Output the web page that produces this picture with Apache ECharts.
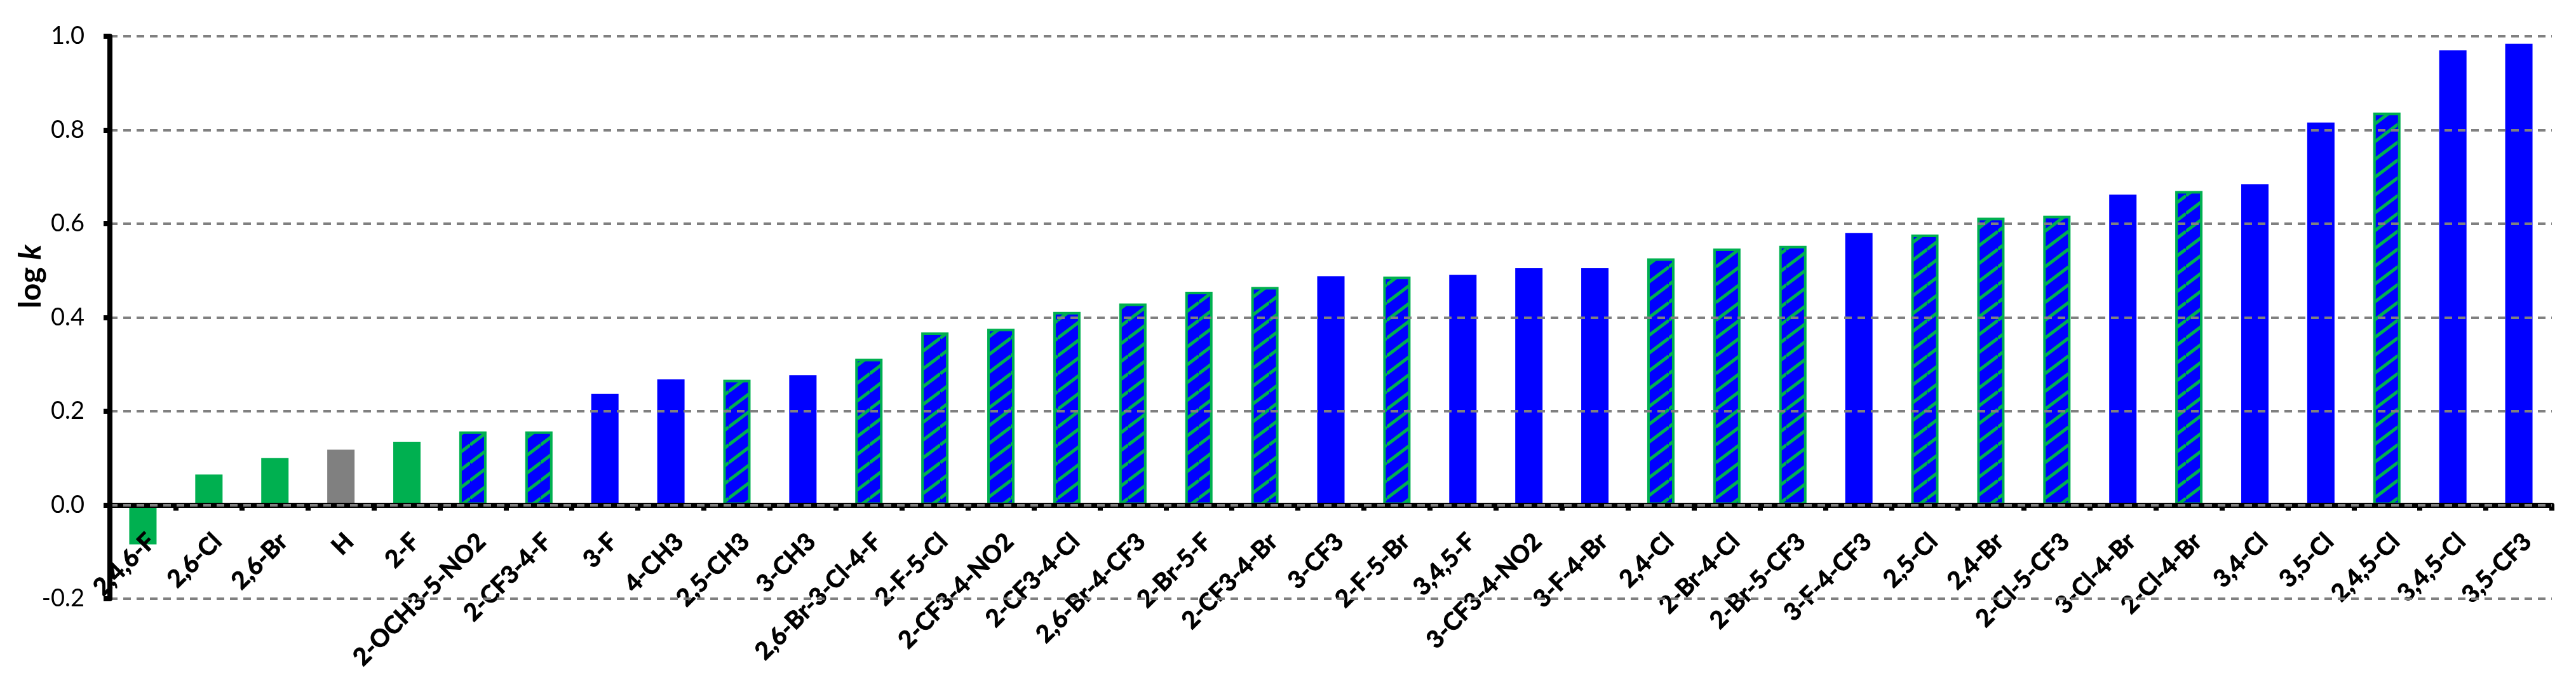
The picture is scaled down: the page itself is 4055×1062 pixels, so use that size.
<!DOCTYPE html>
<html>
<head>
<meta charset="utf-8">
<script src="https://cdn.jsdelivr.net/npm/echarts@6/dist/echarts.min.js"></script>
<style>
  html, body { margin: 0; padding: 0; background: #fff; }
  #chart { width: 4055px; height: 1062px; }
</style>
</head>
<body>
<div id="chart"></div>
<script>
// substituents, sorted by log k
var labels = ['2,4,6-F', '2,6-Cl', '2,6-Br', 'H', '2-F', '2-OCH3-5-NO2', '2-CF3-4-F', '3-F', '4-CH3',
  '2,5-CH3', '3-CH3', '2,6-Br-3-Cl-4-F', '2-F-5-Cl', '2-CF3-4-NO2', '2-CF3-4-Cl', '2,6-Br-4-CF3',
  '2-Br-5-F', '2-CF3-4-Br', '3-CF3', '2-F-5-Br', '3,4,5-F', '3-CF3-4-NO2', '3-F-4-Br', '2,4-Cl',
  '2-Br-4-Cl', '2-Br-5-CF3', '3-F-4-CF3', '2,5-Cl', '2,4-Br', '2-Cl-5-CF3', '3-Cl-4-Br', '2-Cl-4-Br',
  '3,4-Cl', '3,5-Cl', '2,4,5-Cl', '3,4,5-Cl', '3,5-CF3'];

var logK = [-0.084, 0.065, 0.100, 0.118, 0.135, 0.157, 0.157, 0.237, 0.268,
  0.267, 0.277, 0.312, 0.368, 0.376, 0.412, 0.430,
  0.455, 0.465, 0.488, 0.487, 0.491, 0.505, 0.505, 0.526,
  0.547, 0.553, 0.580, 0.577, 0.613, 0.617, 0.662, 0.670,
  0.684, 0.816, 0.837, 0.970, 0.984];

// g = ortho (green), n = unsubstituted (grey), b = meta/para (blue), s = mixed (hatched)
var kinds = ['g', 'g', 'g', 'n', 'g', 's', 's', 'b', 'b',
  's', 'b', 's', 's', 's', 's', 's',
  's', 's', 'b', 's', 'b', 'b', 'b', 's',
  's', 's', 'b', 's', 's', 's', 'b', 's',
  'b', 'b', 's', 'b', 'b'];

var yTicks = [-0.2, 0, 0.2, 0.4, 0.6, 0.8, 1.0];

var GREEN = '#00B050', BLUE = '#0000FF', GREY = '#808080';

var gridTop = 57, gridBottom = 120, H = 1062;
// move the category axis up to the zero line
var plotH = H - gridTop - gridBottom;
var yMin = yTicks[0], yMax = yTicks[yTicks.length - 1];
var zeroOffset = -plotH * (0 - yMin) / (yMax - yMin);

// blue with green upward diagonal stripes
function hatch() {
  var w = 37, h = 28;
  var c = document.createElement('canvas');
  c.width = w; c.height = h;
  var ctx = c.getContext('2d');
  ctx.fillStyle = BLUE;
  ctx.fillRect(0, 0, w, h);
  ctx.strokeStyle = GREEN;
  ctx.lineWidth = 5;
  for (var k = -1; k <= 1; k++) {
    ctx.beginPath();
    ctx.moveTo(0, h + k * h);
    ctx.lineTo(w, k * h);
    ctx.stroke();
  }
  return c;
}
var pattern = { image: hatch(), repeat: 'repeat' };

var barData = logK.map(function (v, i) {
  var k = kinds[i];
  var st;
  if (k == 'g') st = { color: GREEN };
  else if (k == 'n') st = { color: GREY };
  else if (k == 'b') st = { color: BLUE };
  else st = { color: pattern, borderColor: GREEN, borderWidth: 4 };
  return { value: v, itemStyle: st };
});

var chart = echarts.init(document.getElementById('chart'));
chart.setOption({
  animation: false,
  backgroundColor: '#fff',
  grid: { left: 173, right: 38, top: gridTop, bottom: gridBottom, outerBoundsMode: 'none', containLabel: false },
  xAxis: {
    type: 'category',
    data: labels,
    z: 3,
    offset: zeroOffset,
    axisLine: { onZero: false, lineStyle: { color: '#000', width: 8 } },
    axisTick: { show: true, length: 9, lineStyle: { color: '#000', width: 8 } },
    axisLabel: {
      interval: 0,
      rotate: 45,
      margin: 38,
      align: 'right',
      verticalAlign: 'top',
      color: '#000',
      fontFamily: 'Lato',
      fontWeight: 'bold',
      fontSize: 38,
      textBorderColor: '#000',
      textBorderWidth: 1
    },
    splitLine: { show: false }
  },
  yAxis: {
    type: 'value',
    min: yMin,
    max: yMax,
    interval: 0.2,
    z: 4,
    axisLine: { show: true, lineStyle: { color: '#000', width: 8 } },
    axisTick: { show: true, length: 10, lineStyle: { color: '#000', width: 8 } },
    axisLabel: {
      margin: 40,
      color: '#000',
      fontFamily: 'Lato',
      fontSize: 38,
      formatter: function (v) { return v.toFixed(1); }
    },
    splitLine: { show: true, lineStyle: { color: GREY, width: 4, type: [12, 9] } }
  },
  series: [{
    type: 'bar',
    barWidth: 43,
    data: barData
  }],
  graphic: [{
    type: 'text',
    x: 49,
    y: 435,
    rotation: Math.PI / 2,
    style: {
      text: '{a|log }{b|k}',
      align: 'center',
      verticalAlign: 'middle',
      rich: {
        a: { fontFamily: 'Lato', fontWeight: 'bold', fontSize: 48, fill: '#000' },
        b: { fontFamily: 'Lato', fontWeight: 'bold', fontStyle: 'italic', fontSize: 48, fill: '#000' }
      }
    }
  }]
});
</script>
</body>
</html>
